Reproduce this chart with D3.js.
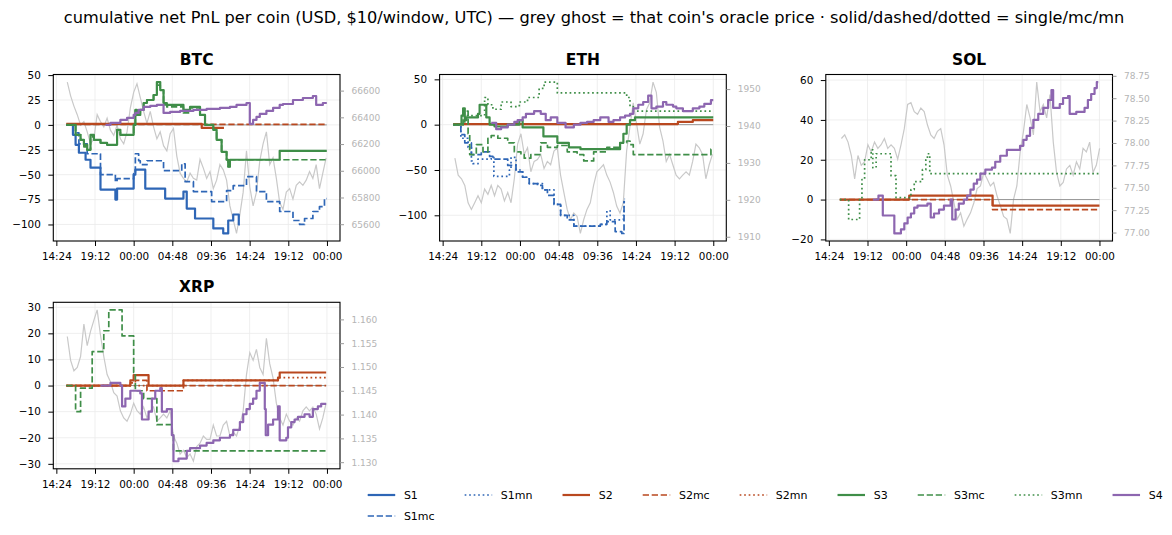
<!DOCTYPE html>
<html>
<head>
<meta charset="utf-8">
<script src="https://cdn.jsdelivr.net/npm/d3@7"></script>
<style>
  body { margin: 0; background: #fff; }
  svg { font-family: "DejaVu Sans", sans-serif; }
</style>
</head>
<body>
<svg id="chart" width="1172" height="535"></svg>
<script>

const coins = ["BTC", "ETH", "SOL", "XRP"]
const strategies = ["S1", "S1mc", "S1mn", "S2", "S2mc", "S2mn", "S3", "S3mc", "S3mn", "S4"]
const timeTickHours = [14.4, 19.2, 24, 28.8, 33.6, 38.4, 43.2, 48]   // hours since day-1 00:00 UTC

// cumulative pnl, [hour, usd], held until next change
const btcS1 = [[15.64,0],[16.46,-10],[16.79,-20],[17.20,-28],[18.03,-35],[18.64,-43],[19.88,-65],[21.73,-75],[21.94,-64],[24.00,-50],[24.21,-45],[25.44,-64],[27.91,-74],[30.18,-67],[30.59,-84],[31.62,-94],[33.89,-104],[35.12,-109],[35.74,-96],[36.36,-90],[37.05,-100],[37.19,-100]]
const btcS1mc = [[15.64,0],[16.46,-8],[17.20,-19],[18.23,-29],[19.88,-50],[21.73,-57],[21.94,-54],[24.00,-49],[24.21,-29],[24.62,-36],[24.82,-40],[25.65,-36],[27.71,-46],[29.97,-39],[30.39,-57],[31.42,-67],[33.68,-77],[35.54,-66],[36.36,-61],[38.01,-52],[39.25,-67],[40.48,-77],[42.13,-87],[43.78,-96],[44.60,-100],[45.22,-94],[46.25,-87],[47.07,-82],[47.69,-74],[47.98,-74]]
const btcS2 = [[15.64,1],[32.45,-3],[35.21,-3]]
const btcS2mc = [[15.64,0.5],[47.98,0.5]]
const btcS3 = [[15.64,0],[16.79,-10],[17.41,-15],[17.82,-20],[18.23,-25],[18.64,-10],[19.06,-15],[19.88,-18],[20.70,-20],[21.94,-5],[22.35,-10],[24.00,0],[24.21,15],[24.41,10],[24.82,15],[25.24,22],[25.65,25],[26.47,30],[26.88,43],[27.30,35],[27.71,22],[28.12,20],[30.18,15],[31.00,18],[32.24,10],[32.86,0],[33.89,-5],[34.30,-15],[34.92,-27],[35.54,-35],[35.74,-42],[35.95,-35],[42.13,-26],[47.98,-26]]
const btcS3mc = [[15.64,0],[16.79,-10],[17.41,-15],[17.82,-22],[18.23,-25],[18.64,-12],[19.06,-15],[19.88,-18],[20.70,-20],[21.94,-5],[22.35,-10],[24.00,0],[24.21,15],[24.41,10],[24.82,15],[25.24,22],[25.65,25],[26.47,30],[26.88,40],[27.30,35],[27.71,20],[28.12,18],[30.18,12],[31.00,17],[32.24,10],[32.86,0],[33.89,-5],[34.30,-15],[34.92,-27],[35.54,-35],[35.74,-42],[35.95,-35],[47.98,-35]]
const btcS4 = [[20.50,0],[21.12,2],[22.35,5],[23.18,7],[24.00,10],[24.21,12],[24.62,15],[25.24,18],[26.06,19],[26.88,20],[27.71,12],[28.53,13],[29.77,14],[31.42,15],[33.06,16],[34.71,17],[35.95,18],[36.77,20],[38.01,22],[38.42,1],[38.83,5],[39.25,8],[39.66,11],[40.48,14],[41.31,17],[42.13,20],[42.54,21],[43.78,25],[45.01,27],[46.25,29],[46.66,20],[47.49,22],[47.98,22]]

const ethS1mc = [[15.71,0],[16.66,-11],[17.15,-20],[17.97,-33],[19.20,-30],[20.23,-35],[20.64,-38],[22.48,-45],[23.51,-52],[24.33,-58],[25.15,-65],[26.17,-67],[26.79,-72],[27.41,-78],[28.23,-88],[29.05,-100],[29.87,-105],[30.69,-112],[33.97,-110],[34.79,-107],[35.82,-118],[36.64,-120],[36.92,-85],[37.05,-85]]
const ethS1mn = [[15.71,0],[16.66,-15],[17.56,-25],[17.97,-40],[18.17,-43],[18.79,-38],[20.43,-36],[20.76,-57],[22.69,-50],[22.89,-36],[23.51,-50],[24.33,-58],[25.15,-65],[26.79,-72],[28.23,-88],[29.05,-100],[30.69,-112],[33.97,-110],[34.79,-95],[35.20,-105],[36.84,-100],[36.92,-82],[37.05,-82]]
const ethS2 = [[15.71,0.7],[43.61,3],[45.46,5],[48.00,5]]
const ethS3 = [[15.71,0],[16.74,10],[16.94,18],[17.15,5],[17.35,8],[18.79,12],[18.99,22],[19.82,8],[20.23,0],[20.84,-2],[22.48,0],[23.92,5],[24.33,-3],[26.91,-13],[28.64,-20],[30.07,-25],[31.51,-27],[36.43,-20],[36.84,-10],[37.25,0],[37.66,5],[38.28,8],[48.00,8]]
const ethS3mc = [[15.71,0],[16.94,15],[17.56,-10],[17.76,-33],[18.58,-22],[19.41,-30],[20.02,-15],[20.43,-12],[21.25,-15],[22.48,-20],[23.30,-30],[24.12,-33],[24.53,-37],[25.35,-33],[26.58,-20],[27.41,-25],[28.64,-23],[29.87,-30],[31.10,-33],[31.92,-40],[33.15,-30],[34.79,-25],[36.43,-20],[37.25,-18],[37.66,-22],[38.07,-33],[47.71,-27],[48.00,-27]]
const ethS3mn = [[15.71,0],[17.15,10],[19.61,30],[20.02,22],[20.64,17],[21.66,25],[22.89,20],[23.92,25],[24.94,30],[26.38,40],[27.00,47],[28.64,35],[37.25,30],[37.66,20],[38.07,15],[47.71,15]]
const ethS4 = [[20.43,2],[21.05,-5],[21.66,-3],[22.48,0],[23.30,3],[23.71,5],[24.33,8],[24.74,12],[25.76,15],[26.58,12],[27.20,5],[27.82,8],[28.64,2],[29.66,-3],[30.69,0],[31.51,2],[32.33,3],[33.15,5],[33.97,8],[35.00,3],[35.61,5],[36.43,8],[37.05,10],[37.66,12],[38.07,18],[38.69,22],[39.30,25],[39.92,32],[40.33,18],[40.94,20],[41.76,25],[42.17,22],[43.00,20],[43.41,18],[44.23,15],[45.46,18],[46.28,20],[46.89,23],[47.71,27],[48.00,27]]

const solS2 = [[15.76,0],[24.38,2],[34.73,-3],[48.00,-3]]
const solS2mc = [[15.76,0],[34.73,-5],[48.00,-5]]
const solS3mn = [[15.76,0],[16.86,-10],[18.22,0],[18.51,10],[18.84,20],[19.66,25],[19.86,16],[20.27,23],[22.12,12],[22.74,1],[24.59,5],[25.00,9],[26.02,15],[26.44,20],[26.64,23],[26.93,13],[48.00,13]]
const solS4 = [[19.86,0],[20.56,2],[21.10,-8],[22.53,-17],[23.35,-15],[23.77,-12],[24.18,-9],[24.59,-7],[25.00,-4],[25.41,-3],[26.64,-2],[27.05,-9],[27.46,-7],[28.08,-5],[28.69,-3],[29.52,0],[29.72,-10],[30.13,-5],[30.54,-2],[31.16,0],[31.57,2],[31.98,5],[32.39,8],[32.80,10],[33.21,13],[33.83,15],[34.65,16],[35.06,19],[35.68,22],[36.50,25],[38.14,27],[38.55,30],[38.96,32],[39.38,36],[39.79,40],[40.40,43],[41.02,46],[41.63,50],[42.04,55],[42.25,46],[43.07,48],[43.48,51],[44.10,52],[44.30,43],[45.12,44],[46.15,46],[46.56,50],[46.97,53],[47.39,56],[47.67,59],[47.85,59]]

const xrpS2 = [[15.64,0],[23.59,2],[24.00,4],[25.85,0],[30.18,2],[41.92,3],[42.13,5],[47.90,5]]
const xrpS2mc = [[15.64,0],[23.59,1],[24.21,2],[25.65,-2],[30.18,0],[47.90,0]]
const xrpS2mn = [[15.64,0],[30.18,2],[42.13,3],[47.90,3]]
const xrpS3mc = [[15.64,0],[16.79,-10],[17.41,-1],[18.85,13],[20.29,21],[20.91,29],[22.56,19],[24.00,5],[24.21,-2],[25.24,-5],[26.88,-15],[28.74,-18],[28.94,-25],[47.82,-25]]
const xrpS4 = [[19.88,0],[21.12,1],[22.35,0],[22.56,-8],[22.97,-5],[23.59,-2],[24.82,-3],[25.03,-13],[25.85,-10],[26.27,-5],[26.68,-2],[27.30,-1],[27.50,-10],[28.12,-9],[28.74,-19],[28.94,-29],[29.56,-28],[30.59,-25],[31.00,-24],[32.24,-23],[33.06,-22],[33.89,-21],[34.71,-20],[35.95,-19],[36.36,-17],[37.19,-14],[37.60,-11],[38.01,-9],[38.42,-7],[38.83,-5],[39.25,-2],[39.66,1],[40.28,-9],[40.40,-19],[40.69,-15],[41.31,-13],[41.92,-8],[42.13,-21],[42.95,-20],[43.16,-16],[43.57,-14],[43.98,-13],[44.40,-12],[45.22,-11],[45.84,-12],[46.25,-9],[46.87,-8],[47.28,-7],[47.90,-7]]

// oracle price ghosts, sampled every few minutes from the start hour
const btcPriceStart = 15.76, btcPriceStep = 0.412
const btcPrice = [66664,66561,66484,66420,66342,66368,66291,66201,66239,66420,
  66368,66329,66394,66304,66265,66342,66239,66201,66291,66471,
  66587,66652,66548,66445,66355,66445,66329,66239,66291,66188,
  66149,66278,66317,66110,65982,65943,65917,65982,65943,65930,
  66085,66020,65943,65994,65866,65930,66046,66007,65930,65737,
  65634,65531,65672,65840,66149,65878,65737,65840,66072,66201,
  66291,66046,66097,65943,65762,65711,65840,65866,65788,65891,
  65917,65891,65930,65994,65943,66046,65866,65982,66097]
const ethPriceStart = 15.92, ethPriceStep = 0.41
const ethPrice = [1931.3,1926.7,1925.7,1923.9,1919.2,1917.4,1919.2,1921.1,1919.2,1922.9,
  1921.5,1923.9,1921.1,1923.9,1922.9,1919.7,1922.0,1919.2,1925.7,1935.1,
  1937.9,1932.3,1934.1,1927.6,1930.4,1930.9,1932.3,1928.5,1930.4,1929.5,
  1933.2,1934.1,1926.7,1922.0,1917.4,1914.6,1916.4,1915.5,1910.9,1914.6,
  1917.4,1919.2,1923.9,1927.6,1928.5,1929.5,1926.7,1924.8,1922.0,1918.3,
  1916.4,1919.2,1933.2,1939.7,1946.3,1940.7,1935.1,1937.9,1944.4,1946.3,
  1951.9,1949.1,1939.7,1936.0,1930.4,1932.3,1929.5,1926.7,1925.7,1926.7,
  1927.6,1926.7,1930.4,1935.1,1934.1,1932.3,1925.7,1929.5,1932.3]
const solPriceStart = 15.96, solPriceStep = 0.411
const solPrice = [78.05,78.09,78.01,77.86,77.60,77.86,77.75,77.79,77.98,77.90,
  78.01,77.94,77.98,78.05,77.94,77.98,77.94,77.82,77.98,78.16,
  78.43,78.45,78.35,78.32,78.39,78.35,78.20,78.09,78.05,78.13,
  78.16,77.98,77.64,77.52,77.33,77.15,77.22,77.07,77.15,77.22,
  77.33,77.49,77.52,77.67,77.60,77.52,77.56,77.41,77.30,77.18,
  77.15,76.99,77.37,77.52,77.90,78.13,78.43,78.28,78.09,78.68,
  78.35,78.43,78.28,78.54,78.01,77.67,77.52,77.56,77.71,77.75,
  77.64,77.79,77.71,77.94,77.90,78.01,77.67,77.75,77.94]
const xrpPriceStart = 15.76, xrpPriceStep = 0.412
const xrpPrice = [1.1564,1.1514,1.1492,1.1499,1.1522,1.1590,1.1545,1.1575,1.1598,1.1620,
  1.1567,1.1522,1.1484,1.1469,1.1446,1.1439,1.1408,1.1393,1.1386,1.1401,
  1.1424,1.1408,1.1401,1.1416,1.1393,1.1408,1.1416,1.1386,1.1393,1.1401,
  1.1393,1.1408,1.1355,1.1340,1.1317,1.1325,1.1310,1.1317,1.1302,1.1333,
  1.1340,1.1355,1.1348,1.1348,1.1378,1.1355,1.1355,1.1378,1.1386,1.1355,
  1.1363,1.1355,1.1378,1.1408,1.1484,1.1530,1.1514,1.1537,1.1499,1.1484,
  1.1560,1.1507,1.1477,1.1424,1.1393,1.1378,1.1401,1.1386,1.1378,1.1393,
  1.1386,1.1408,1.1416,1.1408,1.1416,1.1401,1.1370,1.1393,1.1424]

const btcPnlTicks = [-100, -75, -50, -25, 0, 25, 50]
const ethPnlTicks = [-100, -50, 0, 50]
const solPnlTicks = [-20, 0, 20, 40, 60]
const xrpPnlTicks = [-30, -20, -10, 0, 10, 20, 30]
const btcPriceTicks = [65600, 65800, 66000, 66200, 66400, 66600]
const ethPriceTicks = [1910, 1920, 1930, 1940, 1950]
const solPriceTicks = [77.00, 77.25, 77.50, 77.75, 78.00, 78.25, 78.50, 78.75]
const xrpPriceTicks = [1.130, 1.135, 1.140, 1.145, 1.150, 1.155, 1.160]


// tables built from the arrays above
const pnl = {
  BTC: {S1: btcS1, S1mc: btcS1mc, S2: btcS2, S2mc: btcS2mc, S3: btcS3, S3mc: btcS3mc, S4: btcS4},
  ETH: {S1mc: ethS1mc, S1mn: ethS1mn, S2: ethS2, S3: ethS3, S3mc: ethS3mc, S3mn: ethS3mn, S4: ethS4},
  SOL: {S2: solS2, S2mc: solS2mc, S3mn: solS3mn, S4: solS4},
  XRP: {S2: xrpS2, S2mc: xrpS2mc, S2mn: xrpS2mn, S3mc: xrpS3mc, S4: xrpS4}
}
const ghost = {
  BTC: {start: btcPriceStart, step: btcPriceStep, values: btcPrice, ticks: btcPriceTicks, fmt: d3.format("d")},
  ETH: {start: ethPriceStart, step: ethPriceStep, values: ethPrice, ticks: ethPriceTicks, fmt: d3.format("d")},
  SOL: {start: solPriceStart, step: solPriceStep, values: solPrice, ticks: solPriceTicks, fmt: d3.format(".2f")},
  XRP: {start: xrpPriceStart, step: xrpPriceStep, values: xrpPrice, ticks: xrpPriceTicks, fmt: d3.format(".3f")}
}
const pnlTicks = {BTC: btcPnlTicks, ETH: ethPnlTicks, SOL: solPnlTicks, XRP: xrpPnlTicks}

const colors = {S1: "#2e66b6", S2: "#b9481f", S3: "#3f8e48", S4: "#8d66b0"}

let width = 1172,
    height = 535,
    panel = {w: 286.7, h: 166.5},
    lefts = [53.3, 439.6, 825.8],
    tops = [74.5, 302.3]

const day0 = Date.UTC(2025, 0, 14)
const toDate = h => new Date(day0 + h * 3600e3)

function line_style(name) {
  let kind = name.slice(2)
  if (kind == "mc") return {width: 1.7, dash: "6.3,2.7"}
  if (kind == "mn") return {width: 1.7, dash: "1.7,2.8"}
  return {width: 2.2, dash: null}
}

function pad_extent(ext, f) {
  let r = ext[1] - ext[0]
  return [ext[0] - r * f, ext[1] + r * f]
}

// shared x range over every coin
let all_hours = []
coins.forEach(c => {
  Object.values(pnl[c]).forEach(s => s.forEach(d => all_hours.push(d[0])))
})
let x_domain = pad_extent(d3.extent(all_hours), 0.05)

let svg = d3.select("#chart")

svg.append("text")
  .attr("x", width / 2 + 8)
  .attr("y", 23)
  .attr("text-anchor", "middle")
  .style("font-size", "16.2px")
  .text("cumulative net PnL per coin (USD, $10/window, UTC) — grey ghost = that coin's oracle price · solid/dashed/dotted = single/mc/mn")


function draw_panel(coin, i) {
  let g = svg.append("g")
    .attr("transform", `translate(${lefts[i % 3]},${tops[Math.floor(i / 3)]})`)

  let series = pnl[coin]
  let vals = [0]
  Object.values(series).forEach(s => s.forEach(d => vals.push(d[1])))

  let x = d3.scaleUtc()
    .domain(x_domain.map(toDate))
    .range([0, panel.w])
  let y = d3.scaleLinear()
    .domain(pad_extent(d3.extent(vals), 0.05))
    .range([panel.h, 0])

  let gh = ghost[coin]
  let price_pts = gh.values.map((v, k) => [gh.start + k * gh.step, v])
  let y2 = d3.scaleLinear()
    .domain(pad_extent(d3.extent(gh.values), 0.05))
    .range([panel.h, 0])

  let ticks_t = timeTickHours.map(toDate)

  // grid
  g.append("g").selectAll("line")
    .data(ticks_t).enter()
    .append("line")
    .attr("x1", d => x(d)).attr("x2", d => x(d))
    .attr("y1", 0).attr("y2", panel.h)
    .attr("stroke", "#ebebeb").attr("stroke-width", 0.8)
  g.append("g").selectAll("line")
    .data(pnlTicks[coin]).enter()
    .append("line")
    .attr("x1", 0).attr("x2", panel.w)
    .attr("y1", d => y(d)).attr("y2", d => y(d))
    .attr("stroke", "#ebebeb").attr("stroke-width", 0.8)

  // grey ghost of the oracle price
  g.append("path")
    .datum(price_pts)
    .attr("fill", "none")
    .attr("stroke", "#c9c9c9")
    .attr("stroke-width", 1.2)
    .attr("d", d3.line().x(d => x(toDate(d[0]))).y(d => y2(d[1])))

  // zero reference
  let hrs = d3.extent(Object.values(series).flat().map(d => d[0]))
  g.append("line")
    .attr("x1", x(toDate(hrs[0]))).attr("x2", x(toDate(hrs[1])))
    .attr("y1", y(0)).attr("y2", y(0))
    .attr("stroke", "#8a8a8a").attr("stroke-width", 0.9)

  let step_line = d3.line()
    .x(d => x(toDate(d[0])))
    .y(d => y(d[1]))
    .curve(d3.curveStepAfter)

  strategies.filter(s => series[s]).forEach(s => {
    let st = line_style(s)
    g.append("path")
      .datum(series[s])
      .attr("fill", "none")
      .attr("stroke", colors[s.slice(0, 2)])
      .attr("stroke-width", st.width)
      .attr("stroke-dasharray", st.dash)
      .attr("stroke-linejoin", "round")
      .attr("d", step_line)
  })

  // frame
  g.append("rect")
    .attr("width", panel.w).attr("height", panel.h)
    .attr("fill", "none").attr("stroke", "#000").attr("stroke-width", 1.1)

  let x_axis = d3.axisBottom(x)
    .tickValues(ticks_t)
    .tickFormat(d3.utcFormat("%H:%M"))
    .tickSize(5).tickSizeOuter(0).tickPadding(6.5)
  let y_axis = d3.axisLeft(y)
    .tickValues(pnlTicks[coin])
    .tickSize(5).tickSizeOuter(0).tickPadding(7.5)
  let y2_axis = d3.axisRight(y2)
    .tickValues(gh.ticks)
    .tickFormat(gh.fmt)
    .tickSize(4).tickSizeOuter(0).tickPadding(7.5)

  let ax = g.append("g").attr("transform", `translate(0,${panel.h})`).call(x_axis)
  let ay = g.append("g").call(y_axis)
  let ay2 = g.append("g").attr("transform", `translate(${panel.w},0)`).call(y2_axis)

  ;[ax, ay, ay2].forEach(a => {
    a.select(".domain").remove()
    a.selectAll("text").style("font-family", "DejaVu Sans")
  })
  ax.selectAll("text").style("font-size", "10.4px").attr("fill", "#000")
  ay.selectAll("text").style("font-size", "10.4px").attr("fill", "#000")
  ax.selectAll("line").attr("stroke", "#000")
  ay.selectAll("line").attr("stroke", "#000")
  ay2.selectAll("text").style("font-size", "9px").attr("fill", "#b5b5b5")
  ay2.selectAll("line").attr("stroke", "#9a9a9a")

  g.append("text")
    .attr("x", panel.w / 2)
    .attr("y", -10)
    .attr("text-anchor", "middle")
    .style("font-size", "15.5px")
    .style("font-weight", "bold")
    .text(coin)
}

coins.forEach(draw_panel)


function add_legend() {
  // matplotlib-style column fill: first column takes two entries
  let columns = [["S1", "S1mc"], ["S1mn"], ["S2"], ["S2mc"], ["S2mn"], ["S3"], ["S3mc"], ["S3mn"], ["S4"]]
  let lg = svg.append("g")
  let x = 367.7,
      rows = [495, 516]

  columns.forEach(col => {
    let widest = 0
    col.forEach((name, r) => {
      let st = line_style(name)
      lg.append("line")
        .attr("x1", x).attr("x2", x + 27.5)
        .attr("y1", rows[r]).attr("y2", rows[r])
        .attr("stroke", colors[name.slice(0, 2)])
        .attr("stroke-width", st.width)
        .attr("stroke-dasharray", st.dash)
      let t = lg.append("text")
        .attr("x", x + 36.2)
        .attr("y", rows[r])
        .attr("dy", "0.36em")
        .style("font-size", "11px")
        .text(name)
      widest = Math.max(widest, t.node().getComputedTextLength())
    })
    x += 36.2 + widest + 30
  })
}

add_legend()

</script>
</body>
</html>
